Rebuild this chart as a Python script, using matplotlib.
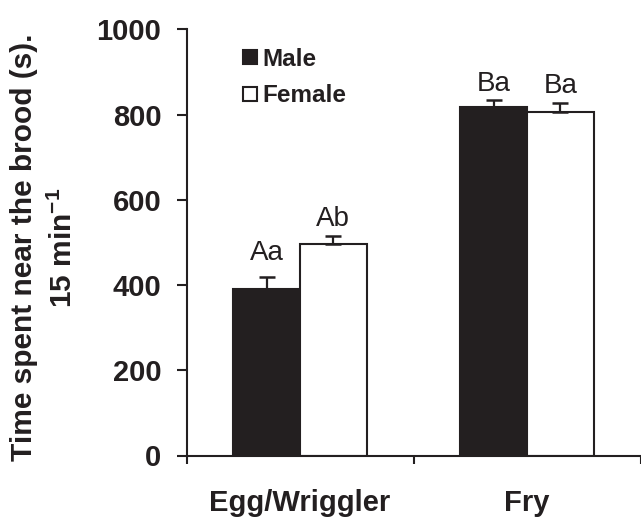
import matplotlib
matplotlib.use("Agg")
import matplotlib.pyplot as plt
from matplotlib.lines import Line2D
import numpy as np

# Data
stages = ["Egg/Wriggler", "Fry"]
male_mean = [390, 818]
male_se = [29, 16]
female_mean = [496, 805]
female_se = [18, 22]
male_letters = ["Aa", "Ba"]
female_letters = ["Ab", "Ba"]
y_ticks = [0, 200, 400, 600, 800, 1000]

INK = "#231f20"
plt.rcParams["font.family"] = ["Liberation Sans", "DejaVu Sans"]
plt.rcParams["mathtext.fontset"] = "custom"
plt.rcParams["mathtext.rm"] = "Liberation Sans:bold"
plt.rcParams["mathtext.bf"] = "Liberation Sans:bold"

fig = plt.figure(figsize=(6.41, 5.18), dpi=100)
ax = fig.add_axes([186.5 / 641, 1 - 455.5 / 518, 454 / 641, (455.5 - 29.3) / 518])

x = np.arange(len(stages))
w = 0.293
err_kw = dict(ecolor=INK, elinewidth=1.6, capsize=5.5, capthick=1.8)
ax.bar(x - w / 2, male_mean, w, color=INK, edgecolor=INK, linewidth=1.5,
       yerr=[np.zeros(len(x)), male_se], error_kw=err_kw, zorder=2)
ax.bar(x + w / 2, female_mean, w, color="white", edgecolor=INK, linewidth=1.5,
       yerr=[np.zeros(len(x)), female_se], error_kw=err_kw, zorder=2)

# significance letters above the error bars
male_pad = [8, 2.5]
female_pad = [3, 3]
for i in range(len(x)):
    ax.annotate(male_letters[i], (x[i] - w / 2, male_mean[i] + male_se[i]),
                xytext=(0, male_pad[i]), textcoords="offset points",
                ha="center", va="bottom", fontsize=20, color=INK)
    ax.annotate(female_letters[i], (x[i] + w / 2, female_mean[i] + female_se[i]),
                xytext=(0, female_pad[i]), textcoords="offset points",
                ha="center", va="bottom", fontsize=20, color=INK)

ax.set_xlim(-0.5, len(stages) - 0.5)
ax.set_ylim(0, 1000)
ax.set_yticks(y_ticks)
ax.set_yticklabels([str(t) for t in y_ticks], fontsize=21, fontweight="bold", color=INK)
ax.tick_params(axis="y", direction="out", length=7, width=1.5, color=INK, pad=11)

ax.set_xticks(np.arange(-0.5, len(stages)), minor=False)
ax.set_xticklabels([])
ax.tick_params(axis="x", which="major", direction="out", length=6, width=1.5, color=INK)
ax.set_xticks(x, minor=True)
ax.set_xticklabels(stages, minor=True, fontsize=21, fontweight="bold", color=INK)
ax.tick_params(axis="x", which="minor", length=0, pad=24)

for s in ["top", "right"]:
    ax.spines[s].set_visible(False)
for s in ["left", "bottom"]:
    ax.spines[s].set_linewidth(1.5)
    ax.spines[s].set_color(INK)

handles = [
    Line2D([], [], linestyle="none", marker="s", markersize=10,
           markerfacecolor=INK, markeredgecolor=INK, markeredgewidth=1.5),
    Line2D([], [], linestyle="none", marker="s", markersize=10,
           markerfacecolor="white", markeredgecolor=INK, markeredgewidth=1.5),
]
leg = ax.legend(handles, ["Male", "Female"], loc="upper left",
                bbox_to_anchor=(0.097, 0.985), frameon=False, borderpad=0,
                handlelength=0.6, handletextpad=0.2, labelspacing=0.55,
                prop={"weight": "bold", "size": 17.5})
for t in leg.get_texts():
    t.set_color(INK)

fig.text(24 / 641, 1 - 247 / 518, "Time spent near the brood (s).", rotation=90,
         ha="center", va="center", fontsize=21.5, fontweight="bold", color=INK)
fig.text(63 / 641, 1 - 247.5 / 518, r"15 min$^{\mathregular{-1}}$", rotation=90,
         ha="center", va="center", fontsize=21.5, fontweight="bold", color=INK)

fig.savefig("out.png", dpi=100)
